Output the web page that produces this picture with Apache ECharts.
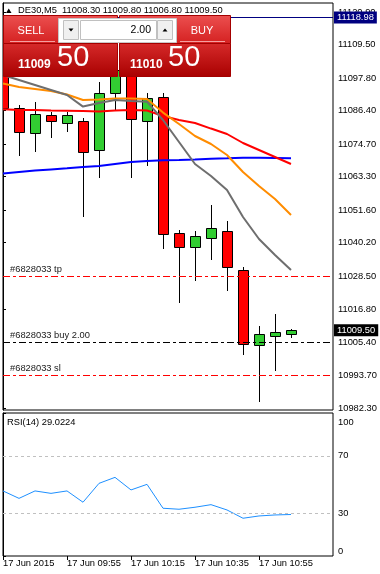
<!DOCTYPE html>
<html><head><meta charset="utf-8">
<script src="https://cdn.jsdelivr.net/npm/echarts@6/dist/echarts.min.js"></script>
<style>html,body{margin:0;padding:0;background:#fff}#c{width:380px;height:574px}</style>
</head><body><div id="c"></div><script>
// ---- data ----
const symbolName = 'DE30,M5';
const barIndex = [0,1,2,3,4,5,6,7,8,9,10,11,12,13,14,15,16,17,18];
const openP  = [11103.0,11087.2,11078.4,11084.85,11081.9,11082.6,11072.5,11092.4,11099.5,11082.85,11091.0,11043.4,11038.8,11041.9,11044.1,11030.5,11004.2,11007.6,11008.30];
const closeP = [11087.2,11078.8,11085.2,11082.85,11084.85,11071.8,11092.4,11100.5,11083.3,11090.7,11043.2,11038.5,11042.4,11045.2,11031.8,11004.6,11008.1,11008.8,11009.50];
const lowP   = [11085.0,11070.6,11072.0,11076.9,11079.0,11049.3,11062.7,11086.6,11062.7,11067.0,11037.95,11019.2,11026.9,11034.1,11023.4,11001.0,10984.5,10995.25,11006.80];
const highP  = [11106.0,11088.35,11089.3,11086.0,11086.0,11083.7,11096.3,11103.0,11102.0,11092.4,11092.5,11044.6,11044.1,11053.35,11047.75,11031.5,11011.0,11015.2,11009.80];
const maGray   = [11098.85,11097.1,11095.35,11093.6,11091.85,11087.8,11089.05,11090.1,11089.75,11089.5,11083.1,11075.4,11067.7,11063.5,11058.6,11049.15,11041.45,11035.85,11030.6];
const maOrange = [11095.9,11094.65,11093.95,11093.25,11092.0,11090.1,11090.3,11090.6,11090.6,11090.45,11085.7,11081.7,11077.5,11074.7,11070.85,11064.9,11060.0,11055.45,11049.85];
const maRed    = [11086.85,11086.6,11086.6,11086.4,11086.35,11086.25,11086.1,11086.4,11086.6,11086.4,11084.5,11083.1,11082.05,11080.1,11078.2,11075.05,11072.6,11070.15,11067.7];
const maBlue   = [11064.4,11064.9,11065.4,11065.8,11066.2,11066.65,11067.0,11067.7,11068.4,11068.75,11069.0,11069.1,11069.3,11069.55,11069.7,11069.9,11069.9,11069.8,11069.7];
const rsiValues = [45.5,40.3,45.5,43.8,45.5,37.6,50.8,55.0,46.2,50.1,33.4,32.7,34.1,35.9,32.2,26.4,28.0,28.7,29.0224];
const rsiLevels = [30,70];
const rsiTicks = [0,30,70,100];
const priceTicks = [10982.30,10993.70,11005.40,11016.80,11028.50,11040.20,11051.60,11063.30,11074.70,11086.40,11097.80,11109.50,11120.90];
const timeTickIndex = [0,4,8,12,16];
const timeTickLabels = ['17 Jun 2015','17 Jun 09:55','17 Jun 10:15','17 Jun 10:35','17 Jun 10:55'];
const orderNames  = ['#6828033 tp','#6828033 buy 2.00','#6828033 sl'];
const orderPrices = [11028.50,11005.40,10993.70];
const orderColors = ['#ff0000','#000000','#ff0000'];
const markerLinePrice = 11118.98;
const lotSize = '2.00';
const spread = 1.0;

// ---- layout ----
const FONT = 'Liberation Sans, Arial, sans-serif';
const FS = 9.33;
const L = 3, R = 47;
const X_MAX = 20.625;
const last = closeP.length - 1;

const candleData = barIndex.map((k,i)=>[k, openP[i], closeP[i], lowP[i], highP[i]]);
const toXY = arr => barIndex.map((k,i)=>[k, arr[i]]);

function renderCandle(params, api){
  const x = api.value(0), o = api.value(1), c = api.value(2), lo = api.value(3), hi = api.value(4);
  const pO = api.coord([x,o]), pC = api.coord([x,c]), pL = api.coord([x,lo]), pH = api.coord([x,hi]);
  const cx = Math.round(pO[0]) + 0.5;
  const top = Math.round(Math.min(pO[1], pC[1])) + 0.5;
  const bot = Math.round(Math.max(pO[1], pC[1])) + 0.5;
  return {type:'group', children:[
    {type:'line', shape:{x1:cx, y1:Math.round(pH[1]), x2:cx, y2:Math.round(pL[1])}, style:{stroke:'#000', lineWidth:1}},
    {type:'rect', shape:{x:cx-5, y:top, width:10, height:Math.max(bot-top,2)},
      style:{fill: c >= o ? '#32cd32' : '#ff0000', stroke:'#000', lineWidth:1}}
  ]};
}

const boxLabel = (bg) => ({show:true, position:'end', distance:1, formatter:p=>p.value.toFixed(2),
  color:'#fff', backgroundColor:bg, fontFamily:FONT, fontSize:FS, padding:[1,3,0,3], lineHeight:11});

const orderMarks = orderNames.map((n,i)=>({name:n, yAxis:orderPrices[i],
  lineStyle:{color:orderColors[i], width:1, type:[7,3,3,3]},
  label:{show:true, position:'insideStartTop', formatter:'{b}', color:'#1a1a1a', fontFamily:FONT, fontSize:FS, distance:2, offset:[5,0]}}));

const option = {
  animation:false,
  backgroundColor:'#fff',
  grid:[
    {left:L, right:R, top:3, height:407, show:true, borderColor:'#000', borderWidth:1, backgroundColor:'#fff'},
    {left:L, right:R, top:413, height:143, show:true, borderColor:'#000', borderWidth:1, backgroundColor:'#fff'}
  ],
  xAxis:[
    {gridIndex:0, type:'value', min:0, max:X_MAX, show:false},
    {gridIndex:1, type:'value', min:0, max:X_MAX, position:'bottom',
      axisLine:{show:false}, splitLine:{show:false},
      axisTick:{show:true, length:4, inside:false, customValues:timeTickIndex, lineStyle:{color:'#000'}},
      axisLabel:{show:true, customValues:timeTickIndex, margin:3, align:'left', color:'#000', fontFamily:FONT, fontSize:FS,
        formatter:v=>timeTickLabels[timeTickIndex.indexOf(Math.round(v))] || ''}}
  ],
  yAxis:[
    {gridIndex:0, type:'value', position:'right', min:10981.60, max:11124.05, scale:true,
      axisLine:{show:true, lineStyle:{color:'#000'}}, splitLine:{show:false},
      axisTick:{show:true, length:3, inside:false, customValues:priceTicks, lineStyle:{color:'#000'}},
      axisLabel:{customValues:priceTicks, margin:5, color:'#000', fontFamily:FONT, fontSize:FS, formatter:v=>v.toFixed(2)}},
    {gridIndex:1, type:'value', position:'right', min:0, max:100,
      axisLine:{show:true, lineStyle:{color:'#000'}}, splitLine:{show:false},
      axisTick:{show:true, length:3, inside:false, customValues:rsiTicks, lineStyle:{color:'#000'}},
      axisLabel:{customValues:rsiTicks, margin:5, color:'#000', fontFamily:FONT, fontSize:FS,
        verticalAlignMinLabel:'bottom', verticalAlignMaxLabel:'top',
        rich:{t:{fontFamily:FONT, fontSize:FS, color:'#000', padding:[5,0,0,0]}},
        formatter:v=> v === 100 ? '{t|100}' : String(v)}}
  ],
  series:[
    {type:'line', xAxisIndex:0, yAxisIndex:0, data:toXY(maBlue), showSymbol:false, clip:true,
      lineStyle:{color:'#0000ff', width:2}, z:3,
      markLine:{silent:true, symbol:['none','none'], z:20, data:[
        ...orderMarks,
        {yAxis:markerLinePrice, lineStyle:{color:'#000080', width:1, type:'solid'}, label:boxLabel('#000080')},
        {yAxis:closeP[last], lineStyle:{color:'rgba(0,0,0,0)', width:1, type:'solid'}, label:boxLabel('#000000')}
      ]}},
    {type:'line', xAxisIndex:0, yAxisIndex:0, data:toXY(maRed), showSymbol:false, clip:true, lineStyle:{color:'#ff0000', width:2}, z:4},
    {type:'line', xAxisIndex:0, yAxisIndex:0, data:toXY(maOrange), showSymbol:false, clip:true, lineStyle:{color:'#ff8c00', width:2}, z:5},
    {type:'line', xAxisIndex:0, yAxisIndex:0, data:toXY(maGray), showSymbol:false, clip:true, lineStyle:{color:'#6e6e6e', width:2}, z:6},
    {type:'custom', xAxisIndex:0, yAxisIndex:0, data:candleData, renderItem:renderCandle, clip:true, z:2,
      encode:{x:0, y:[1,2,3,4]}},
    {type:'line', xAxisIndex:1, yAxisIndex:1, data:toXY(rsiValues), showSymbol:false, clip:true,
      lineStyle:{color:'#1e90ff', width:1},
      markLine:{silent:true, symbol:['none','none'], label:{show:false},
        data:rsiLevels.map(v=>({yAxis:v})), lineStyle:{color:'#c0c0c0', width:1, type:[3,3]}}}
  ],
  graphic:[]
};

// ---- header & trade panel (decoration) ----
const bid = closeP[last], ask = closeP[last] + spread;
const splitPrice = p => { const s = p.toFixed(2); return [s.slice(0, s.length-3), s.slice(s.length-2)]; };
const [bidBig, bidSmall] = splitPrice(bid), [askBig, askSmall] = splitPrice(ask);
const g = option.graphic;
const Z = 100;
g.push({type:'polygon', z:Z, shape:{points:[[6,13],[11.5,13],[8.75,8.5]]}, style:{fill:'#000'}});
g.push({type:'text', z:Z, x:18, y:10.5, style:{text:`${symbolName}  ${openP[last].toFixed(2)} ${highP[last].toFixed(2)} ${lowP[last].toFixed(2)} ${closeP[last].toFixed(2)}`,
  font:`${FS}px ${FONT}`, fill:'#000', verticalAlign:'middle'}});
function sidePanel(x, w, label, labelCx, sepX1, sepX2, big, small, bigX, smallX){
  g.push({type:'rect', z:Z, shape:{x:x+0.5, y:15.5, width:w, height:28},
    style:{fill:new echarts.graphic.LinearGradient(0,0,0,1,[{offset:0,color:'#ec5050'},{offset:1,color:'#d42020'}]), stroke:'#a40000'}});
  g.push({type:'rect', z:Z, shape:{x:x+0.5, y:43.5, width:w, height:33},
    style:{fill:new echarts.graphic.LinearGradient(0,0,0,1,[{offset:0,color:'#d62a2a'},{offset:1,color:'#a80000'}]), stroke:'#a40000'}});
  g.push({type:'line', z:Z, shape:{x1:sepX1, y1:41.5, x2:sepX2, y2:41.5}, style:{stroke:'#f4a0a0', lineWidth:1}});
  g.push({type:'text', z:Z, x:labelCx, y:30.5, style:{text:label, font:`11px ${FONT}`, fill:'#fff', align:'center', verticalAlign:'middle'}});
  g.push({type:'text', z:Z, x:bigX, y:64.5, style:{text:big, font:`bold 12px ${FONT}`, fill:'#fff', verticalAlign:'middle'}});
  g.push({type:'text', z:Z, x:smallX, y:58, style:{text:small, font:`29px ${FONT}`, fill:'#fff', verticalAlign:'middle'}});
}
sidePanel(3, 114, 'SELL', 31, 10, 55, bidBig, bidSmall, 18, 57);
sidePanel(119, 111, 'BUY', 202, 180, 225, askBig, askSmall, 130, 168);
// lot control
g.push({type:'rect', z:Z+1, shape:{x:58.5, y:18.5, width:118, height:24}, style:{fill:'#fff', stroke:'#c8c8c8'}});
g.push({type:'rect', z:Z+1, shape:{x:63.5, y:20.5, width:15, height:19}, style:{fill:'#f0f0f0', stroke:'#c0c0c0'}});
g.push({type:'polygon', z:Z+2, shape:{points:[[68.5,28.5],[73.5,28.5],[71,31.5]]}, style:{fill:'#000'}});
g.push({type:'rect', z:Z+1, shape:{x:80.5, y:20.5, width:76, height:19}, style:{fill:'#fff', stroke:'#c0c0c0'}});
g.push({type:'text', z:Z+2, x:151, y:30.5, style:{text:lotSize, font:`10.5px ${FONT}`, fill:'#000', align:'right', verticalAlign:'middle'}});
g.push({type:'rect', z:Z+1, shape:{x:157.5, y:20.5, width:15, height:19}, style:{fill:'#f0f0f0', stroke:'#c0c0c0'}});
g.push({type:'polygon', z:Z+2, shape:{points:[[162.5,31.5],[167.5,31.5],[165,28.5]]}, style:{fill:'#000'}});
// RSI caption
g.push({type:'text', z:Z, x:7, y:422, style:{text:`RSI(14) ${rsiValues[last].toFixed(4)}`, font:`${FS}px ${FONT}`, fill:'#000', verticalAlign:'middle'}});

const chart = echarts.init(document.getElementById('c'), null, {renderer:'canvas'});
chart.setOption(option);
</script></body></html>
